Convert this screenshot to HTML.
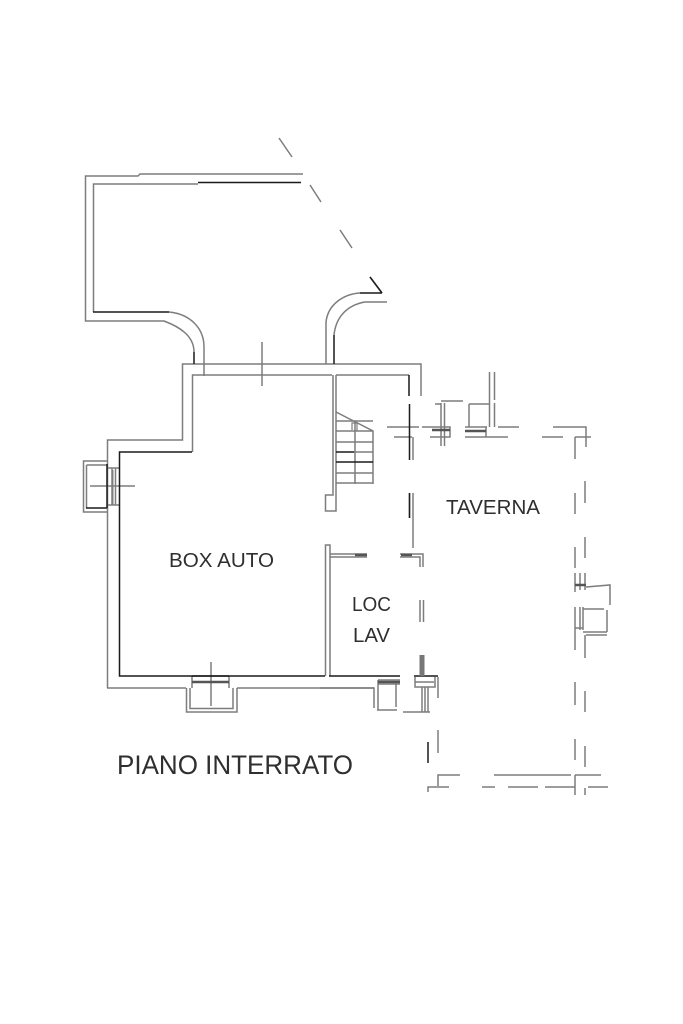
<!DOCTYPE html>
<html>
<head>
<meta charset="utf-8">
<title>Piano Interrato</title>
<style>
html,body{margin:0;padding:0;background:#fff;width:683px;height:1024px;overflow:hidden}
svg{display:block}
text{font-family:"Liberation Sans",sans-serif;fill:#2f2f2f}
</style>
</head>
<body>
<svg width="683" height="1024" viewBox="0 0 683 1024" xmlns="http://www.w3.org/2000/svg">
<defs><filter id="b" x="-5%" y="-5%" width="110%" height="110%"><feGaussianBlur stdDeviation="0.35"/></filter></defs>
<rect width="683" height="1024" fill="#fff"/>
<g filter="url(#b)">
<g fill="none" stroke="#7d7d7d" stroke-width="1.5">
<!-- upper ramp -->
<path d="M303 174H140L138 176H85.500V321H164C180 327 194 336 194 352"/>
<path d="M93.500 312V184H198"/>
<path d="M169 312C190 314 204 328 204 347V376"/>
<path d="M326 364V322C328 304 344 294 360 293"/>
<path d="M334 335C336 316 348 305 365 302H387"/>
<path d="M279 138L292 157M310 185L321 202M340 230L352 248M370 277L382 293"/>
<!-- main walls -->
<path d="M107.500 688V440H182.500V364H421V396"/>
<path d="M192.500 452V375H332M336 375H409"/>
<path d="M107 688H186M237 688H374"/>
<path d="M262 342V386"/>
<path d="M333 375V495H325.500V511H336V375"/>
<path d="M325.500 676V545H330V676"/>
<path d="M330 554H367M330 557H367"/>
<path d="M400 554H423V567M400 557H420V567"/>
<path d="M413 437V460M413 493V518V548M409.500 493V518"/>
<path d="M420 600V622M423.500 600V622"/>
<!-- stairs -->
<path d="M336 412L373 431V484"/>
<path d="M336 421H373M336 431H373M336 442H373M354 452H373M336 473H373M336 483H373M355 421V484"/>
<path d="M352 430V423H357V431" stroke-width="1.200"/>
<!-- left window -->
<path d="M107 461H83.500V512H107"/>
<path d="M86.500 465H107M86.500 465V508"/>
<path d="M107 468H119M107 505H119M112 468V505M115.500 468V505"/>
<path d="M90 486H135"/>
<path d="M113 470V505" stroke-width="1"/>
<!-- bottom window -->
<path d="M192 676V688M229 676V688"/>
<path d="M186.500 688V712H237V688M190 688V708.500H233V688"/>
<path d="M211 662V706"/>
<!-- taverna top -->
<path d="M387 427H419M394 437H412"/>
<path d="M422 427H450V437H430"/>
<path d="M441 403V446M444.500 403V446"/>
<path d="M435 404H441M441 401H463"/>
<path d="M469 404H490M469 404V427"/>
<path d="M489.500 372V427M494.500 372V400M494.500 403V427"/>
<path d="M465 427H487M465 437H508M498 427H519M486 427V437"/>
<path d="M542 437H563M553 427H586V447M575 437H591M575 437V459"/>
<!-- right dashes -->
<path d="M575 493V514M575 547V568M575 573V592M575 607V650M575 682V705M575 739V760M575 775V795"/>
<path d="M585 481V503M585 537V558M585 573V590M585 635V658M585 691V712M585 746V767M585 788V795"/>
<path d="M575 585H586M586 587L610 585V605M580 573V590"/>
<path d="M583 607V630M583 609H604M607 610V632M583 632H607M586 635H607M575 628H583M580 607V630"/>
<!-- lower right -->
<path d="M320 688H374V708M378 680V710M396 683V707M378 680H400M378 684H400M377 710H397M403 712H430"/>
<path d="M415 677V687H435V677M438 677V698M422 687V712M425 687V712M428 687V712M415 682H434"/>
<path d="M438 730V753"/>
<path d="M438 786V775H460M494 775H571M575 775H601"/>
<path d="M428 792V787H449M482 787H495M508 787H538M545 787H575M588 787H608"/>
</g>
<!-- black strokes -->
<g fill="none" stroke="#1c1c1c" stroke-width="1.500">
<path d="M198 182.500H301"/>
<path d="M93 312H169"/>
<path d="M194 352V364"/>
<path d="M334 335V364"/>
<path d="M360 293H382M370 277L382 293"/>
<path d="M192 452H119.500V676H325M329 676H400M414 676H438"/>
<path d="M409 375V396M409.500 404V460"/>
<path d="M336 452H354M336 462H373"/>
<path d="M86 508H107M107 464V508"/>
<path d="M192 676H229"/>
<path d="M409.500 493V518"/>
<path d="M428 742V763"/>
</g>
<g fill="none" stroke="#555" stroke-width="2.500">
<path d="M192 682H229"/>
<path d="M432 430H450M465 431H486"/>
<path d="M378 682H400"/>
<path d="M355 555H367M401 555H412"/>
<path d="M575 585H586"/>
</g>
<rect x="419.500" y="655" width="5" height="21" fill="#777"/>
</g>
<text x="169" y="567" font-size="20" textLength="105" lengthAdjust="spacingAndGlyphs">BOX AUTO</text>
<text x="446" y="514" font-size="20" textLength="94" lengthAdjust="spacingAndGlyphs">TAVERNA</text>
<text x="352" y="611" font-size="20" textLength="39" lengthAdjust="spacingAndGlyphs">LOC</text>
<text x="353" y="642" font-size="20" textLength="37" lengthAdjust="spacingAndGlyphs">LAV</text>
<text x="117" y="774" font-size="27" textLength="236" lengthAdjust="spacingAndGlyphs">PIANO INTERRATO</text>
</svg>
</body>
</html>
